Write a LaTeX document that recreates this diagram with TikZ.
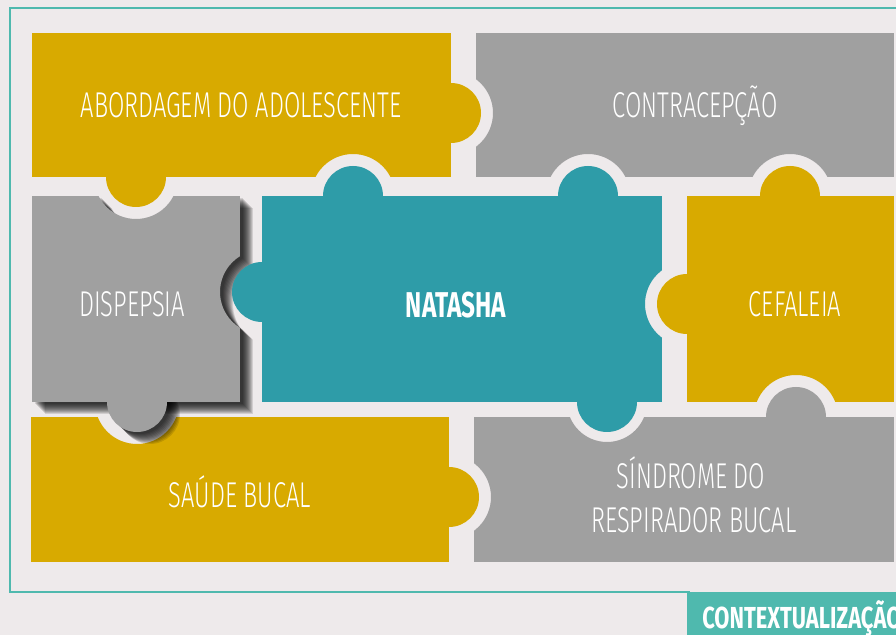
\documentclass[tikz,border=0pt]{standalone}
\usepackage{fontspec}
\newfontfamily\piecefont[FakeStretch=0.66]{Fira Sans Light}
\newfontfamily\headfont[FakeStretch=0.68]{Fira Sans}
\newfontfamily\ctxfont[FakeStretch=0.72]{Fira Sans}
\definecolor{bgpaper}{HTML}{EEEAEB}
\definecolor{frameteal}{HTML}{4FB9AE}
\definecolor{goldpiece}{HTML}{D8AA00}
\definecolor{graypiece}{HTML}{A0A0A0}
\definecolor{tealpiece}{HTML}{2E9CA8}
\begin{document}
\begin{tikzpicture}[x=0.025cm,y=-0.025cm,
    lbl/.style={text=white,inner sep=0pt,anchor=base,font=\piecefont\fontsize{25.5}{31}\selectfont},
    boldlbl/.style={lbl,font=\headfont\bfseries\fontsize{25.5}{31}\selectfont}]
  \useasboundingbox (0,0) rectangle (896,635);
  \clip (0,0) rectangle (896,635);
  \fill[bgpaper] (0,0) rectangle (896,635);
  \draw[frameteal,line width=1.5pt] (900,8) -- (10,8) -- (10,592) -- (690,592);

  % abordagem
  \begin{scope}[even odd rule]
    \clip (0,0) rectangle (896,635) (353,196) circle[radius=42];
    \fill[goldpiece] (32,33) rectangle (451,177);
    \fill[goldpiece] (451,113) circle[radius=30] (136,177) circle[radius=30];
  \end{scope}

  % contracepcao
  \begin{scope}[even odd rule]
    \clip (0,0) rectangle (896,635) (451,113) circle[radius=42]
      (588,196) circle[radius=42] (790,196) circle[radius=42];
    \fill[graypiece] (476,33) rectangle (894,177);
  \end{scope}

  % saude bucal
  \begin{scope}[even odd rule]
    \clip (0,0) rectangle (896,635) (137,402) circle[radius=42];
    \fill[goldpiece] (31,417) rectangle (449,562);
    \fill[goldpiece] (449,497) circle[radius=30];
  \end{scope}

  % sindrome
  \begin{scope}[even odd rule]
    \clip (0,0) rectangle (896,635) (449,497) circle[radius=42]
      (607,402) circle[radius=40];
    \fill[graypiece] (474,417) rectangle (894,562);
    \fill[graypiece] (796,417) circle[radius=30];
  \end{scope}

  % dispepsia, with its shadow
  \foreach \s in {3,...,13}{
    \begin{scope}[shift={(\s,\s-1)},even odd rule]
      \clip (-20,-20) rectangle (920,660) (136,177) circle[radius=42]
        (262,292) circle[radius=42];
      \fill[black,opacity=.12] (32,196) rectangle (240,402);
      \fill[black,opacity=.12] (137,402) circle[radius=30];
    \end{scope}
  }
  \begin{scope}[even odd rule]
    \clip (0,0) rectangle (896,635) (136,177) circle[radius=42]
      (262,292) circle[radius=42];
    \fill[graypiece] (32,196) rectangle (240,402);
    \fill[graypiece] (137,402) circle[radius=30];
  \end{scope}

  % natasha
  \begin{scope}[even odd rule]
    \clip (0,0) rectangle (896,635) (687,304) circle[radius=42];
    \fill[tealpiece] (262,196) rectangle (662,402);
    \fill[tealpiece] (353,196) circle[radius=30] (588,196) circle[radius=30]
      (262,292) circle[radius=30] (607,402) circle[radius=30];
  \end{scope}

  % cefaleia
  \begin{scope}[even odd rule]
    \clip (0,0) rectangle (896,635) (796,417) circle[radius=42];
    \fill[goldpiece] (687,196) rectangle (894,402);
    \fill[goldpiece] (790,196) circle[radius=30] (687,304) circle[radius=30];
  \end{scope}

  \node[lbl] (abord) at (241,118) {ABORDAGEM DO ADOLESCENTE};
  \node[lbl] (contra) at (695,118) {CONTRACEPÇÃO};
  \node[lbl] (disp) at (132,317) {DISPEPSIA};
  \node[boldlbl] (nat) at (456,318) {NATASHA};
  \node[lbl] (cefa) at (795,317) {CEFALEIA};
  \node[lbl] (saude) at (240,508) {SAÚDE BUCAL};
  \node[lbl] (sindr) at (691,489) {SÍNDROME DO};
  \node[lbl] (resp) at (694,533) {RESPIRADOR BUCAL};

  % tab at the bottom right
  \fill[frameteal] (687,592) rectangle (900,640);
  \node[boldlbl,anchor=base west,font=\ctxfont\bfseries\fontsize{21.6}{26}\selectfont]
    (ctx) at (702,628) {CONTEXTUALIZAÇÃO};
\end{tikzpicture}
\end{document}
